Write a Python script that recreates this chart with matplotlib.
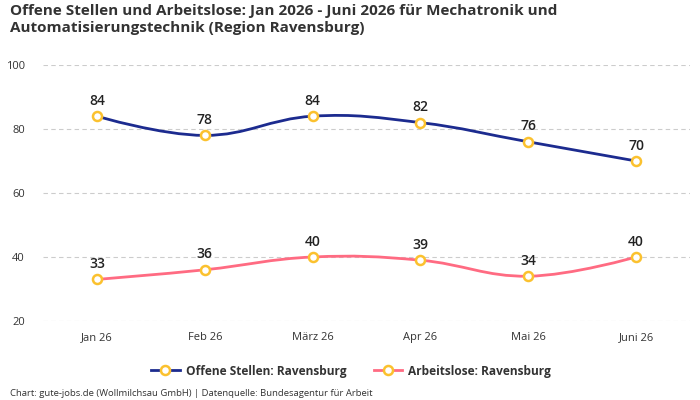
import numpy as np
import matplotlib.pyplot as plt
from matplotlib.path import Path
from matplotlib.patches import PathPatch
from matplotlib.lines import Line2D

plt.rcParams['font.family'] = ['Open Sans', 'DejaVu Sans']

# Data
months = ['Jan 26', 'Feb 26', 'März 26', 'Apr 26', 'Mai 26', 'Juni 26']
offene_stellen = [84, 78, 84, 82, 76, 70]
arbeitslose = [33, 36, 40, 39, 34, 40]

BLUE = '#1c2b8f'
PINK = '#ff6b82'
YELLOW = '#fbc12e'
TEXT = '#333333'


def spline_path(xs, ys, smoothing=1.5):
    # Highcharts-like spline through the points
    denom = smoothing + 1
    n = len(xs)
    left = [(xs[i], ys[i]) for i in range(n)]
    right = [(xs[i], ys[i]) for i in range(n)]
    for i in range(1, n - 1):
        lcx = (smoothing * xs[i] + xs[i - 1]) / denom
        lcy = (smoothing * ys[i] + ys[i - 1]) / denom
        rcx = (smoothing * xs[i] + xs[i + 1]) / denom
        rcy = (smoothing * ys[i] + ys[i + 1]) / denom
        corr = (rcy - lcy) * (rcx - xs[i]) / (rcx - lcx) + ys[i] - rcy
        left[i] = (lcx, lcy + corr)
        right[i] = (rcx, rcy + corr)
    verts = [(xs[0], ys[0])]
    codes = [Path.MOVETO]
    for i in range(1, n):
        verts += [right[i - 1], left[i], (xs[i], ys[i])]
        codes += [Path.CURVE4] * 3
    return Path(verts, codes)


fig = plt.figure(figsize=(7, 4), dpi=100)
ax = fig.add_axes([43 / 700, (400 - 321) / 400, (690 - 43) / 700, 256 / 400])

x = np.arange(len(months))
for vals, color in [(offene_stellen, BLUE), (arbeitslose, PINK)]:
    p = spline_path(list(x), vals)
    ax.add_patch(PathPatch(p, facecolor='none', edgecolor=color, lw=2, zorder=3))
    ax.plot(x, vals, linestyle='none', marker='o', ms=6.5, mfc='white',
            mec=YELLOW, mew=1.8, zorder=4)
    for xi, v in zip(x, vals):
        ax.annotate(str(v), (xi, v), xytext=(0, 6), textcoords='offset points',
                    ha='center', va='bottom', fontsize=10, color='#222222',
                    fontweight='semibold')

ax.set_xlim(-0.5, len(months) - 0.5)
ax.set_ylim(20, 100)
ax.set_yticks([20, 40, 60, 80, 100])
ax.set_xticks(x)
ax.set_xticklabels(months)
ax.tick_params(axis='both', length=0, labelsize=8, colors=TEXT)
ax.tick_params(axis='x', pad=8)
ax.tick_params(axis='y', pad=13)
ax.grid(axis='y', color='#cccccc', linestyle=(0, (4, 3)), lw=0.8)
for s in ax.spines.values():
    s.set_visible(False)

fig.text(10 / 700, 1 - 4 / 400, 'Offene Stellen und Arbeitslose: Jan 2026 - Juni 2026 für Mechatronik und\n'
         'Automatisierungstechnik (Region Ravensburg)',
         ha='left', va='top', fontsize=11, fontweight='bold', color=TEXT,
         linespacing=1.3)
fig.text(10 / 700, 1 - 393 / 400, 'Chart: gute-jobs.de (Wollmilchsau GmbH) | Datenquelle: Bundesagentur für Arbeit',
         ha='left', va='center', fontsize=6.8, color=TEXT)

handles = [
    Line2D([], [], color=BLUE, lw=2, marker='o', ms=6.5, mfc='white', mec=YELLOW, mew=1.8),
    Line2D([], [], color=PINK, lw=2, marker='o', ms=6.5, mfc='white', mec=YELLOW, mew=1.8),
]
leg = fig.legend(handles, ['Offene Stellen: Ravensburg', 'Arbeitslose: Ravensburg'],
                 loc='center', bbox_to_anchor=(351 / 700, 1 - 371 / 400), ncol=2,
                 frameon=False, fontsize=8.6, handlelength=2.4, columnspacing=2.3,
                 handletextpad=0.5)
for t in leg.get_texts():
    t.set_fontweight('bold')
    t.set_color(TEXT)

fig.savefig('out.png', dpi=100)
